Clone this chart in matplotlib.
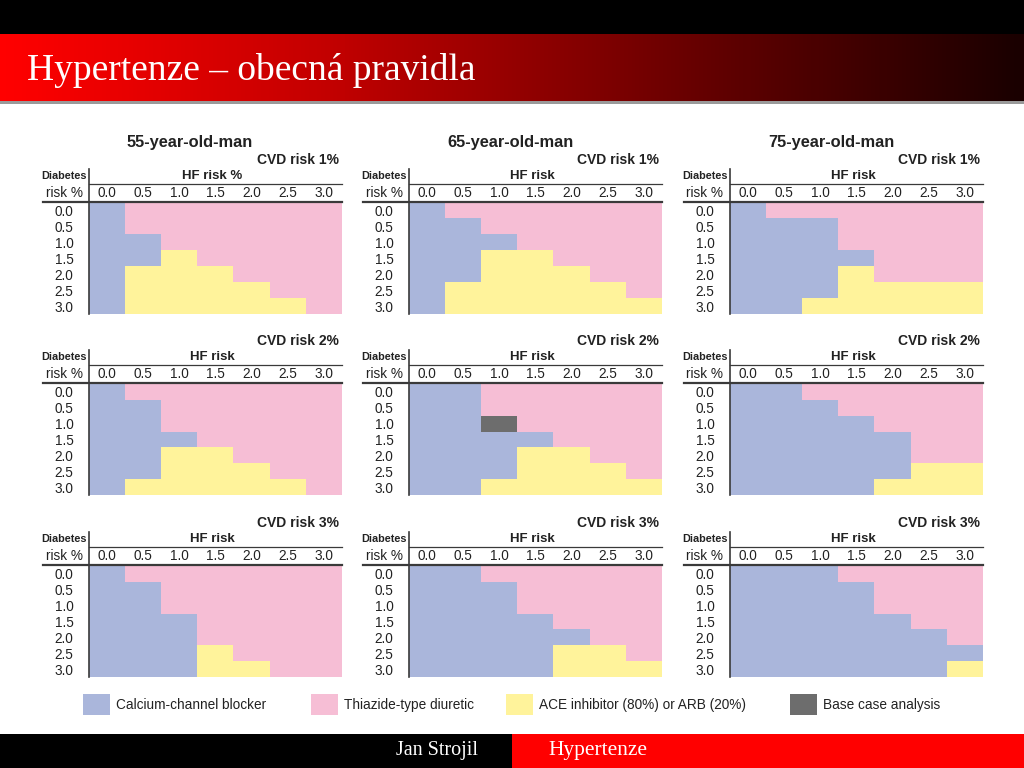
import numpy as np
import matplotlib
matplotlib.use("Agg")
import matplotlib.pyplot as plt
from matplotlib.colors import ListedColormap, LinearSegmentedColormap
from matplotlib.patches import Rectangle

plt.rcParams['font.family'] = ['Liberation Sans', 'DejaVu Sans']

# --- data ---
hf_risk = ["0.0", "0.5", "1.0", "1.5", "2.0", "2.5", "3.0"]
diab_risk = ["0.0", "0.5", "1.0", "1.5", "2.0", "2.5", "3.0"]
ages = ["55-year-old-man", "65-year-old-man", "75-year-old-man"]
cvd_labels = ["CVD risk 1%", "CVD risk 2%", "CVD risk 3%"]
classes = ["Calcium-channel blocker", "Thiazide-type diuretic",
           "ACE inhibitor (80%) or ARB (20%)", "Base case analysis"]
class_colors = ["#aab6db", "#f6bed5", "#fff39b", "#6d6d6d"]

# 0 = CCB, 1 = thiazide, 2 = ACE/ARB, 3 = base case ; rows = diabetes risk, cols = HF risk
m55_cvd1 = [[0,1,1,1,1,1,1],[0,1,1,1,1,1,1],[0,0,1,1,1,1,1],[0,0,2,1,1,1,1],
            [0,2,2,2,1,1,1],[0,2,2,2,2,1,1],[0,2,2,2,2,2,1]]
m65_cvd1 = [[0,1,1,1,1,1,1],[0,0,1,1,1,1,1],[0,0,0,1,1,1,1],[0,0,2,2,1,1,1],
            [0,0,2,2,2,1,1],[0,2,2,2,2,2,1],[0,2,2,2,2,2,2]]
m75_cvd1 = [[0,1,1,1,1,1,1],[0,0,0,1,1,1,1],[0,0,0,1,1,1,1],[0,0,0,0,1,1,1],
            [0,0,0,2,1,1,1],[0,0,0,2,2,2,2],[0,0,2,2,2,2,2]]
m55_cvd2 = [[0,1,1,1,1,1,1],[0,0,1,1,1,1,1],[0,0,1,1,1,1,1],[0,0,0,1,1,1,1],
            [0,0,2,2,1,1,1],[0,0,2,2,2,1,1],[0,2,2,2,2,2,1]]
m65_cvd2 = [[0,0,1,1,1,1,1],[0,0,1,1,1,1,1],[0,0,3,1,1,1,1],[0,0,0,0,1,1,1],
            [0,0,0,2,2,1,1],[0,0,0,2,2,2,1],[0,0,2,2,2,2,2]]
m75_cvd2 = [[0,0,1,1,1,1,1],[0,0,0,1,1,1,1],[0,0,0,0,1,1,1],[0,0,0,0,0,1,1],
            [0,0,0,0,0,1,1],[0,0,0,0,0,2,2],[0,0,0,0,2,2,2]]
m55_cvd3 = [[0,1,1,1,1,1,1],[0,0,1,1,1,1,1],[0,0,1,1,1,1,1],[0,0,0,1,1,1,1],
            [0,0,0,1,1,1,1],[0,0,0,2,1,1,1],[0,0,0,2,2,1,1]]
m65_cvd3 = [[0,0,1,1,1,1,1],[0,0,0,1,1,1,1],[0,0,0,1,1,1,1],[0,0,0,0,1,1,1],
            [0,0,0,0,0,1,1],[0,0,0,0,2,2,1],[0,0,0,0,2,2,2]]
m75_cvd3 = [[0,0,0,1,1,1,1],[0,0,0,0,1,1,1],[0,0,0,0,1,1,1],[0,0,0,0,0,1,1],
            [0,0,0,0,0,0,1],[0,0,0,0,0,0,0],[0,0,0,0,0,0,2]]

grids = [[m55_cvd1, m65_cvd1, m75_cvd1],
         [m55_cvd2, m65_cvd2, m75_cvd2],
         [m55_cvd3, m65_cvd3, m75_cvd3]]

W, H = 1024, 768
fig = plt.figure(figsize=(W/100, H/100), dpi=100)
fig.patch.set_facecolor("white")

# overlay axes in pixel coordinates for slide decoration + panel furniture
ov = fig.add_axes([0, 0, 1, 1], zorder=5)
ov.set_xlim(0, W); ov.set_ylim(H, 0); ov.axis("off")
ov.patch.set_alpha(0)

# header: black band + red gradient bar
ov.add_patch(Rectangle((0, 0), W, 34, color="black", lw=0))
grad = LinearSegmentedColormap.from_list("hdr", ["#ff0000", "#c00000", "#6a0000", "#1a0000"])
ov.imshow(np.linspace(0, 1, 256)[None, :], cmap=grad, aspect="auto",
          extent=(0, W, 101, 34), interpolation="bilinear")
ov.add_patch(Rectangle((0, 101), W, 3, color="#9a9a9a", lw=0))
ov.text(27, 71, "Hypertenze – obecná pravidla", color="white", fontsize=27,
        family=["Liberation Serif", "DejaVu Serif"], va="center", ha="left")

# footer
ov.add_patch(Rectangle((0, 734), 512, 34, color="black", lw=0))
ov.add_patch(Rectangle((512, 734), 512, 34, color="#ff0000", lw=0))
ov.text(478, 751, "Jan Strojil", color="white", fontsize=14.5,
        family=["Liberation Serif", "DejaVu Serif"], va="center", ha="right")
ov.text(548, 751, "Hypertenze", color="white", fontsize=15.5,
        family=["Liberation Serif", "DejaVu Serif"], va="center", ha="left")

cmap = ListedColormap(class_colors)
gx = [89, 409, 730]
gy = [203, 384, 566]
gw, gh = 253, 111
line_c = "#3a3a3a"

for r in range(3):
    for c in range(3):
        x0, y0 = gx[c], gy[r]
        ax = fig.add_axes([x0/W, 1 - (y0 + gh)/H, gw/W, gh/H], zorder=2)
        ax.imshow(np.array(grids[r][c]), cmap=cmap, vmin=-0.5, vmax=3.5,
                  aspect="auto", interpolation="nearest")
        ax.xaxis.tick_top()
        ax.set_xticks(range(len(hf_risk)))
        ax.set_xticklabels(hf_risk, fontsize=9.8, color="#222222")
        ax.set_yticks(range(len(diab_risk)))
        ax.set_yticklabels(diab_risk, fontsize=9.8, ha="center", color="#222222")
        ax.tick_params(length=0, pad=2, axis="x")
        ax.tick_params(length=0, pad=18, axis="y")
        for s in ax.spines.values():
            s.set_visible(False)

        if r == 0:
            ov.text(x0 + 101, y0 - 60, ages[c], fontsize=11.8, fontweight="bold",
                    ha="center", va="center", color="#222222")
        ov.text(x0 + 250, y0 - 43, cvd_labels[r], fontsize=10, fontweight="bold",
                ha="right", va="center", color="#222222")
        hf_title = "HF risk %" if (r == 0 and c == 0) else "HF risk"
        ov.text(x0 + 123, y0 - 27, hf_title, fontsize=9.5, fontweight="bold",
                ha="center", va="center", color="#222222")
        ov.text(x0 - 25, y0 - 27, "Diabetes", fontsize=7.8, fontweight="bold",
                ha="center", va="center", color="#222222")
        ov.text(x0 - 25, y0 - 10, "risk %", fontsize=9.8,
                ha="center", va="center", color="#222222")
        ov.plot([x0, x0 + gw], [y0 - 19, y0 - 19], color=line_c, lw=0.9)
        ov.plot([x0 - 46, x0 + gw], [y0 - 1, y0 - 1], color=line_c, lw=1.6)
        ov.plot([x0, x0], [y0 - 34, y0 + gh], color=line_c, lw=1.2)

# legend
leg_x = [83, 311, 506, 790]
for i, name in enumerate(classes):
    ov.add_patch(Rectangle((leg_x[i], 694), 27, 21, color=class_colors[i], lw=0))
    ov.text(leg_x[i] + 33, 705, name, fontsize=9.8, ha="left", va="center",
            color="#222222")

fig.savefig("out.png", dpi=100)
